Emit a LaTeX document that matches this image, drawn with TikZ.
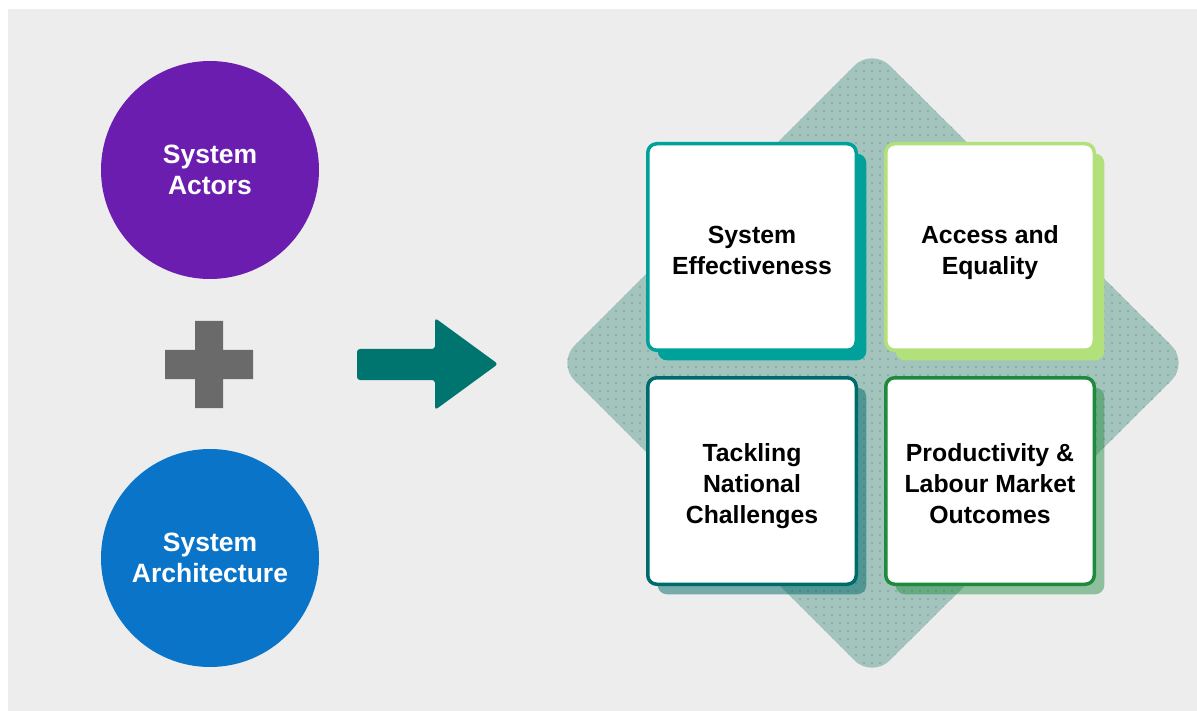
\documentclass[tikz,border=0pt]{standalone}
\usepackage{fontspec}
\setmainfont{Liberation Sans}
\usetikzlibrary{shadows,patterns.meta}

\definecolor{bggray}{HTML}{EDEDED}
\definecolor{actorpurple}{HTML}{6A1DAF}
\definecolor{archblue}{HTML}{0A74C9}
\definecolor{plusgray}{HTML}{6A6A6A}
\definecolor{arrowteal}{HTML}{00756F}
\definecolor{diamondgreen}{HTML}{A2C4BC}
\definecolor{dotgreen}{HTML}{84A89F}
\definecolor{effteal}{HTML}{00A19A}
\definecolor{accgreen}{HTML}{B2E07A}
\definecolor{natteal}{HTML}{006B6B}
\definecolor{prodgreen}{HTML}{1E8A3C}

% struts so every card sets its lines the same way
\newcommand{\cardtext}[1]{\rule{0pt}{33pt}#1\rule[-9.3pt]{0pt}{0pt}}

\begin{document}
\begin{tikzpicture}[x=1pt,y=-1pt,
	circ/.style={circle, fill=#1, minimum size=218pt, inner sep=0pt, text=white,
		font=\bfseries\fontsize{26.5}{31}\selectfont, align=center},
	card/.style={draw=#1, line width=3.5pt, fill=white, rounded corners=9pt,
		minimum width=208.5pt, minimum height=206.5pt, inner sep=0pt,
		font=\bfseries\fontsize{24.8}{31}\selectfont, align=center}]
				\useasboundingbox (0,0) rectangle (1197,711);
				\fill[bggray] (8,9) rectangle (1197,711);
				
				% left side
				\path (210,170) node[circ=actorpurple] (actors) {System\\Actors}
				(210,558) node[circ=archblue] (arch) {System\\Architecture};
				\fill[plusgray] (195,321) -- (223,321) -- (223,350) -- (253,350) -- (253,379) -- (223,379)
				-- (223,408) -- (195,408) -- (195,379) -- (165,379) -- (165,350) -- (195,350) -- cycle;
				\fill[arrowteal, rounded corners=3pt] (357,349) -- (435,349) -- (435,318) -- (498,364)
				-- (435,410) -- (435,380) -- (357,380) -- cycle;
				
				% diamond behind the cards
				\fill[diamondgreen, rounded corners=25pt] (872,48) -- (1189,363) -- (872,678) -- (557,363) -- cycle;
				\fill[pattern={Dots[distance=8pt, radius=1.2pt]}, pattern color=dotgreen, rounded corners=25pt]
				(872,48) -- (1189,363) -- (872,678) -- (557,363) -- cycle;
				
				\path (752,247) node[card=effteal, drop shadow={shadow xshift=10pt, shadow yshift=-10pt, fill=effteal, opacity=1}] (eff) {\cardtext{System\\Effectiveness}}
				(990,247) node[card=accgreen, drop shadow={shadow xshift=10pt, shadow yshift=-10pt, fill=accgreen, opacity=1}] (acc) {\cardtext{Access and\\Equality}}
				(752,481) node[card=natteal, drop shadow={shadow xshift=10pt, shadow yshift=-10pt, fill=natteal, opacity=0.5}] (nat) {\cardtext{Tackling\\National\\Challenges}}
				(990,481) node[card=prodgreen, drop shadow={shadow xshift=10pt, shadow yshift=-10pt, fill=prodgreen, opacity=0.45}] (prod) {\cardtext{Productivity \&\\Labour Market\\Outcomes}};
			\end{tikzpicture}
\end{document}
